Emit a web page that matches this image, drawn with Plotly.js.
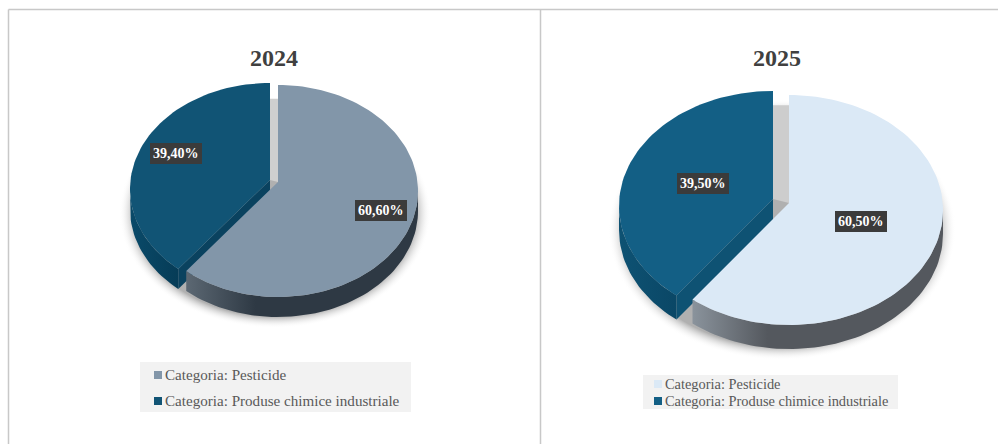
<!DOCTYPE html>
<html><head><meta charset="utf-8">
<script src="https://cdn.plot.ly/plotly-3.0.1.min.js"></script>
<style>html,body{margin:0;padding:0;background:#fff}</style>
</head><body><div id="chart" style="width:998px;height:444px"></div>
<script>
const categories = ["Categoria: Pesticide", "Categoria: Produse chimice industriale"];
const years = ["2024", "2025"];
const values2024 = [60.6, 39.4];
const values2025 = [60.5, 39.5];

const W = 998, H = 444;
const serif = '"Liberation Serif","Times New Roman",serif';

const charts = [
  {year: years[0], values: values2024, ax: '', px: {l: 10, r: 540, cx: 278, cy: 191, rx: 140, ry: 106},
   explode: [-8, 2], apex: 9, depth: 20, skew: 2.8, wallTop: 0.87,
   top: ['#8296a9', '#115475'], cut: '#0a425f',
   sideA: ['#5c6873', '#2e3944'], sideB: ['#0a4a69', '#063c57'],
   shadow: {cx: 275, cy: 213, rx: 156, ry: 115}, wall: '#cfcfcf',
   labels: [[381, 210], [176, 153]], titleY: 58, titleX: 274,
   legend: {l: 140, r: 411, t: 362, b: 412, rows: [375, 401], sw: 154, tx: 164, size: 15.1}},
  {year: years[1], values: values2025, ax: '2', px: {l: 541, r: 998, cx: 789, cy: 210, rx: 154, ry: 115},
   explode: [-16, 4], apex: 7, depth: 24, skew: 1, wallTop: 0.91,
   top: ['#dbe9f6', '#135f85'], cut: '#0e5273',
   sideA: ['#8a939c', '#54585e'], sideB: ['#0e5273', '#0a4766'],
   shadow: {cx: 782, cy: 230, rx: 174, ry: 130}, wall: '#cdcdcd',
   labels: [[861, 221], [703, 183]], titleY: 58, titleX: 777,
   legend: {l: 643, r: 898, t: 375, b: 409, rows: [384, 401], sw: 654, tx: 664, size: 14.4}}
];

const rad = d => d * Math.PI / 180;
const traces = [], annotations = [], shapes = [];
const layout = {width: W, height: H, margin: {l: 0, r: 0, t: 0, b: 0}, showlegend: false,
  paper_bgcolor: '#fff', plot_bgcolor: 'rgba(0,0,0,0)', annotations, shapes, hovermode: false};

charts.forEach(c => {
  const p = c.px;
  const xa = 'x' + c.ax, ya = 'y' + c.ax;
  const hidden = {visible: false, fixedrange: true};
  layout['xaxis' + c.ax] = {...hidden, domain: [p.l / W, p.r / W], range: [(p.l - p.cx) / p.rx, (p.r - p.cx) / p.rx], anchor: ya};
  layout['yaxis' + c.ax] = {...hidden, domain: [0, 1], range: [(p.cy - H) / p.ry, p.cy / p.ry], anchor: xa};

  const ux = v => v / p.rx, uy = v => v / p.ry;   // pixel lengths -> axis units
  const total = c.values[0] + c.values[1];
  const split = c.values[0] / total * 360 + c.skew;
  const pt = (t, ox, oy) => [ox + Math.sin(rad(t)), oy + Math.cos(rad(t))];
  const arc = (t0, t1, ox, oy) => {
    const out = [], n = Math.max(2, Math.round(Math.abs(t1 - t0) / 2));
    for (let i = 0; i <= n; i++) out.push(pt(t0 + (t1 - t0) * i / n, ox, oy));
    return out;
  };
  const add = (pts, style, name) => traces.push(Object.assign({
    type: 'scatter', mode: 'lines', xaxis: xa, yaxis: ya, fill: 'toself', hoverinfo: 'skip',
    line: {width: 0, color: 'rgba(0,0,0,0)'}, name: name || '',
    x: pts.map(q => q[0]), y: pts.map(q => q[1])
  }, style));

  const ex = ux(c.explode[0]), ey = uy(c.explode[1]);
  const dep = uy(c.depth), ap = uy(c.apex);

  // soft shadow under the pie
  const s = c.shadow, sh = [];
  for (let t = 0; t <= 360; t += 4)
    sh.push([(s.cx - p.cx + s.rx * Math.sin(rad(t))) / p.rx, (p.cy - s.cy + s.ry * Math.cos(rad(t))) / p.ry]);
  add(sh, {fillgradient: {type: 'radial', colorscale: [[0, 'rgba(176,176,176,1)'], [0.9, 'rgba(176,176,176,1)'], [1, 'rgba(255,255,255,0)']]}});

  // gap wall behind the exploded slice
  add([[ex, ap + ey], [ex, c.wallTop], [0, c.wallTop], [0, ap]], {fillcolor: c.wall});

  // exploded slice: outer side, cut wall, top face
  const sideB = arc(split, 270, ex, ey);
  add(sideB.concat(sideB.slice().reverse().map(q => [q[0], q[1] - dep])), {fillgradient: {type: 'horizontal', colorscale: [[0, c.sideB[0]], [1, c.sideB[1]]]}});
  const tip = pt(split, ex, ey);
  add([[ex, ey + ap], tip, [tip[0], tip[1] - dep], [ex, ey + ap - dep]], {fillcolor: c.cut});
  add([[ex, ey + ap]].concat(arc(split, 360, ex, ey)), {fillcolor: c.top[1]}, categories[1]);

  // main slice: outer side, top face
  const sideA = arc(90, split, 0, 0);
  add(sideA.concat(sideA.slice().reverse().map(q => [q[0], q[1] - dep])), {fillgradient: {type: 'horizontal', colorscale: [[0, c.sideA[0]], [0.3, c.sideA[1]], [1, c.sideA[1]]]}});
  add([[0, ap]].concat(arc(0, split, 0, 0)), {fillcolor: c.top[0]}, categories[0]);

  // title
  annotations.push({text: '<b>' + c.year + '</b>', xref: 'paper', yref: 'paper', x: c.titleX / W, y: 1 - c.titleY / H,
    showarrow: false, font: {family: serif, size: 24, color: '#404040'}, xanchor: 'center', yanchor: 'middle'});

  // data labels
  c.values.forEach((v, i) => {
    const [lx, ly] = c.labels[i];
    annotations.push({text: '<b>' + v.toFixed(2).replace('.', ',') + '%</b>', xref: xa, yref: ya,
      x: (lx - p.cx) / p.rx, y: (p.cy - ly) / p.ry, showarrow: false, bgcolor: '#3b3b3b', borderpad: 3, borderwidth: 0,
      font: {family: serif, size: 14, color: '#ffffff'}, xanchor: 'center', yanchor: 'middle'});
  });

  // legend panel
  const L = c.legend;
  const box = (x0, x1, y0, y1, color) => shapes.push({type: 'rect', xref: 'paper', yref: 'paper', layer: 'below', line: {width: 0},
    x0: x0 / W, x1: x1 / W, y0: 1 - y1 / H, y1: 1 - y0 / H, fillcolor: color});
  box(L.l, L.r, L.t, L.b, '#f2f2f2');
  categories.forEach((name, i) => {
    const y = L.rows[i];
    box(L.sw, L.sw + 8, y - 4, y + 4, c.top[i]);
    annotations.push({text: name, xref: 'paper', yref: 'paper', x: L.tx / W, y: 1 - y / H, showarrow: false,
      xanchor: 'left', yanchor: 'middle', borderpad: 0, font: {family: serif, size: L.size, color: '#595959'}});
  });
});

// panel frame
const line = (x0, y0, x1, y1) => shapes.push({type: 'line', xref: 'paper', yref: 'paper', layer: 'below',
  x0: x0 / W, x1: x1 / W, y0: 1 - y0 / H, y1: 1 - y1 / H, line: {color: '#c8c8c8', width: 1.5}});
line(8.5, 9.5, 998, 9.5);
line(8.5, 9.5, 8.5, 444);
line(540.5, 9.5, 540.5, 444);

Plotly.newPlot('chart', traces, layout, {displayModeBar: false, staticPlot: true});
</script></body></html>
